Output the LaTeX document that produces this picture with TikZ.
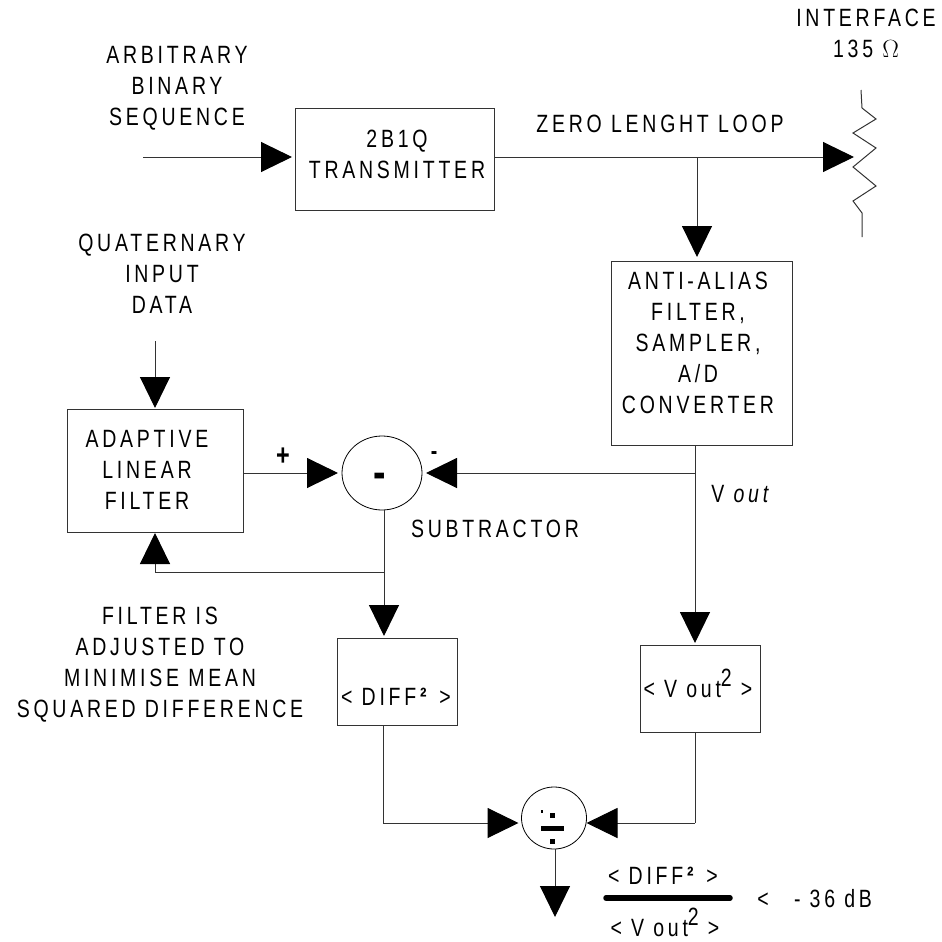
\documentclass[tikz,border=0pt]{standalone}
\usepackage{fontspec}
\setmainfont{Liberation Sans}[FakeStretch=0.78,LetterSpace=15]
\usetikzlibrary{arrows.meta,calc,shapes.geometric}
\newcommand{\raisedtwo}{\raisebox{11pt}{2}}
\tikzset{
  x=1pt,y=-1pt,
  wire/.style={line width=1pt,black!80},
  arr/.style={wire,-{Triangle[length=31pt,width=30pt,fill=black,color=black]}},
  txt/.style={inner sep=0pt,outer sep=0pt,anchor=base,align=center,font=\fontsize{25}{31}\selectfont},
  boxnode/.style={draw=black!80,line width=1pt,inner sep=0pt,outer sep=0pt,rectangle},
  opnode/.style={draw=black,line width=0.8pt,inner sep=0pt,outer sep=0pt,ellipse},
  divmark/.style={fill=black,draw=none,inner sep=0pt,outer sep=0pt,rectangle}
}
\begin{document}
\begin{tikzpicture}
\useasboundingbox (0,0) rectangle (942,942);
% boxes
\node[boxnode,minimum width=199pt,minimum height=102pt] (tx) at (394.5,159.5) {};
\node[boxnode,minimum width=181pt,minimum height=184pt] (aa) at (701.5,353) {};
\node[boxnode,minimum width=176pt,minimum height=123pt] (af) at (155,470.5) {};
\node[boxnode,minimum width=120pt,minimum height=87pt] (dq) at (397,681.5) {};
\node[boxnode,minimum width=120pt,minimum height=87pt] (vq) at (700,688.5) {};
\node[opnode,minimum width=80pt,minimum height=74pt] (sub) at (382,473) {};
\node[opnode,minimum width=65pt,minimum height=62pt] (div) at (554,818) {};
% coordinates
\coordinate (in) at (143,157);
\coordinate (rtip) at (854,157);
\coordinate (jz) at (697,157);
\coordinate (qin) at (155,341);
\coordinate (jv) at (695,473);
\coordinate (jf) at (384,572);
\coordinate (fb) at (155,572);
\coordinate (dc) at (383,823);
\coordinate (vc) at (695,823);
\coordinate (dout) at (555,917);
% connectors
\draw[arr,shorten >=3pt] (in) -- (tx.west |- in);
\draw[arr] (tx.east |- in) -- (rtip);
\draw[arr,shorten >=4pt] (jz) -- (jz |- aa.north);
\draw[arr,shorten >=1pt] (qin) -- (qin |- af.north);
\draw[arr,shorten >=4pt] (af.east |- sub.west) -- (sub.west);
\draw[arr,shorten >=4pt] (jv) -- (sub.east);
\draw[wire] (jv |- aa.south) -- (jv);
\draw[arr,shorten >=2pt] (jv) -- (jv |- vq.north);
\draw[arr,shorten >=2pt] (jf |- sub.south) -- (jf |- dq.north);
\draw[wire] (jf) -- (fb);
\draw[arr,shorten >=1pt] (fb) -- (fb |- af.south);
\draw[wire] (dc |- dq.south) -- (dc);
\draw[arr,shorten >=3pt] (dc) -- (div.west |- dc);
\draw[wire] (vc |- vq.south) -- (vc);
\draw[arr] (vc) -- (div.east |- vc);
\draw[arr] (dout |- div.south) -- (dout);
% resistor
\draw[wire] (861,90) -- (862,108) -- (876,119) -- (853,133) -- (876,148) -- (853,167) -- (876,186) -- (853,201) -- (862,213) -- (862,237);
% divide mark
\node[divmark,minimum width=5pt,minimum height=5pt] (d1) at (552.5,815.5) {};
\node[divmark,minimum width=23pt,minimum height=5pt] (d2) at (552.5,828.5) {};
\node[divmark,minimum width=5pt,minimum height=5pt] (d3) at (552.5,841) {};
\node[divmark,minimum width=2pt,minimum height=3pt] (d4) at (541.5,811.5) {};
% fraction bar
\draw[line width=5.5pt,line cap=round] (606,898) -- (730,898);
% labels
\node[txt] (l1) at (177,125) {ARBITRARY\\BINARY\\SEQUENCE};
\node[txt] (l2) at (397,178) {2B1Q\\TRANSMITTER};
\node[txt] (l3) at (660,132) {ZERO LENGHT LOOP};
\node[txt] (l4) at (866,58) {INTERFACE\\135 $\Omega$};
\node[txt] (l5) at (162,313) {QUATERNARY\\INPUT\\DATA};
\node[txt] (l6) at (698,413) {ANTI-ALIAS\\FILTER,\\SAMPLER,\\A/D\\CONVERTER};
\node[txt] (l7) at (147,509) {ADAPTIVE\\LINEAR\\FILTER};
\node[txt] (l8) at (495,537) {SUBTRACTOR};
\node[txt] (l9) at (742,502) {V \textit{out}};
\node[txt] (l10) at (160,717) {FILTER IS\\ADJUSTED TO\\MINIMISE MEAN\\SQUARED DIFFERENCE};
\node[txt] (l11) at (396,705) {< DIFF\textbf{²} >};
\node[txt] (l12) at (698,697) {< V out\raisedtwo{} >};
\node[txt] (l13) at (663,884) {< DIFF\textbf{²} >};
\node[txt] (l14) at (665,936) {< V out\raisedtwo{} >};
\node[txt] (l15) at (763,907) {<};
\node[txt] (l16) at (833,907) {- 36 dB};
\node[txt,font=\fontsize{48}{48}\selectfont\bfseries] (l17) at (380,488) {-};
\node[txt,font=\fontsize{30}{30}\selectfont\bfseries] (l18) at (283,465) {+};
\node[txt,font=\fontsize{25}{25}\selectfont\bfseries] (l19) at (434,459) {-};
\end{tikzpicture}
\end{document}
